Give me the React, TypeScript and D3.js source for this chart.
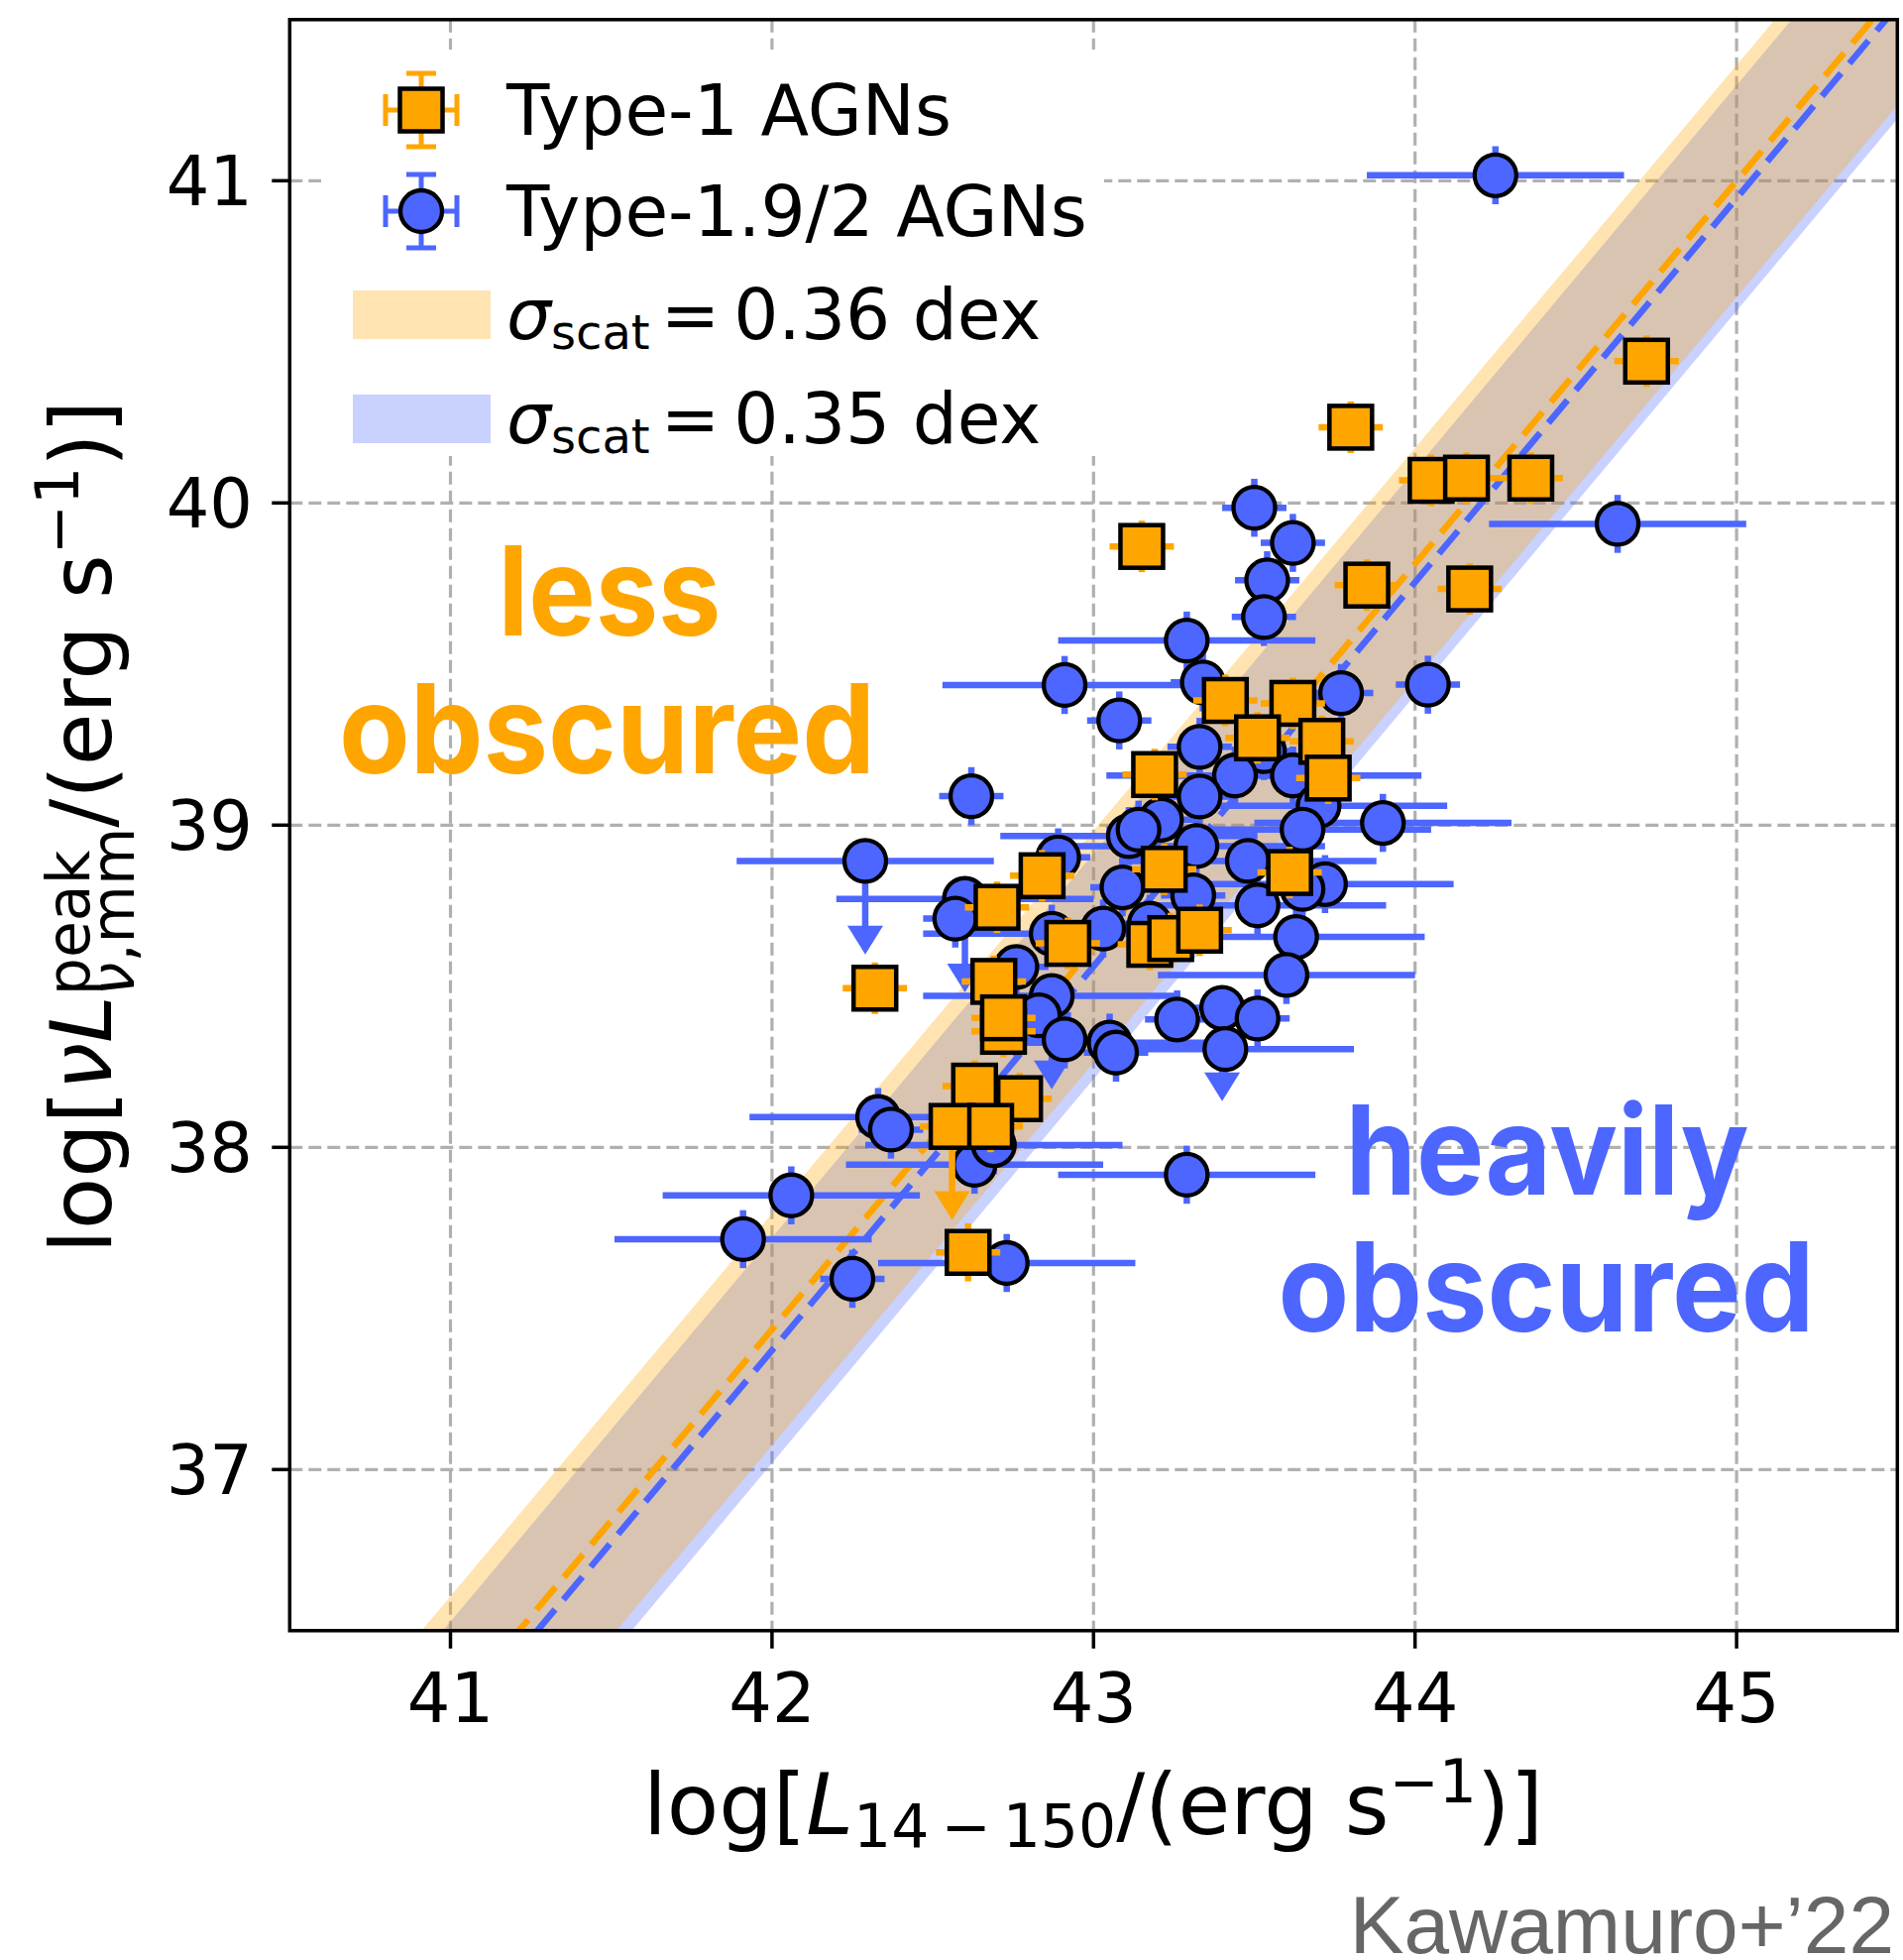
import React, { useEffect, useRef } from "react";
import * as d3 from "d3";

const xTickValues = [41, 42, 43, 44, 45];
const yTickValues = [37, 38, 39, 40, 41];

// Type-1 AGNs (orange squares)
const type1X = [44.72, 43.80, 44.05, 44.16, 44.36, 43.15, 43.85, 44.17, 43.41, 43.62, 43.51, 43.71, 43.19, 43.73, 42.84, 43.22, 43.61, 42.70, 42.92, 43.175, 43.24, 43.33, 42.32, 42.72, 42.69, 42.72, 42.63, 42.77, 42.56, 42.68, 42.61];
const type1Y = [40.44, 40.235, 40.07, 40.077, 40.077, 39.865, 39.745, 39.733, 39.387, 39.378, 39.271, 39.26, 39.157, 39.146, 38.843, 38.863, 38.853, 38.745, 38.633, 38.63, 38.648, 38.674, 38.494, 38.36, 38.515, 38.402, 38.19, 38.151, 38.065, 38.065, 37.674];
const type1XErr = [0.1, 0.1, 0.1, 0.1, 0.1, 0.1, 0.1, 0.1, 0.1, 0.1, 0.1, 0.1, 0.1, 0.1, 0.1, 0.1, 0.1, 0.1, 0.1, 0.1, 0.1, 0.1, 0.1, 0.1, 0.1, 0.1, 0.1, 0.1, 0.1, 0.1, 0.1];
const type1YErr = [0.08, 0.08, 0.08, 0.08, 0.08, 0.08, 0.08, 0.08, 0.08, 0.08, 0.08, 0.08, 0.08, 0.08, 0.08, 0.08, 0.08, 0.08, 0.08, 0.08, 0.08, 0.08, 0.08, 0.08, 0.08, 0.08, 0.08, 0.08, 0.08, 0.08, 0.09];
const type1UpperLimit = [0, 0, 0, 0, 0, 0, 0, 0, 0, 0, 0, 0, 0, 0, 0, 0, 0, 0, 0, 0, 0, 0, 0, 0, 0, 0, 0, 0, 1, 0, 0];

// Type-1.9/2 AGNs (blue circles)
const type2X = [44.25, 44.63, 43.50, 43.62, 43.54, 43.53, 43.29, 42.91, 43.34, 43.77, 44.04, 43.08, 43.33, 43.53, 43.44, 43.62, 43.33, 42.62, 43.21, 43.70, 43.65, 43.90, 43.11, 43.14, 42.29, 42.89, 43.32, 43.09, 43.31, 43.48, 43.72, 43.65, 43.51, 42.60, 42.57, 42.87, 43.03, 43.175, 43.63, 43.60, 42.87, 42.83, 42.76, 42.91, 43.05, 43.07, 43.26, 43.40, 43.51, 43.41, 42.33, 42.37, 42.06, 41.91, 42.25, 42.73, 42.63, 42.69, 43.29];
const type2Y = [41.017, 39.935, 39.985, 39.876, 39.76, 39.646, 39.573, 39.435, 39.443, 39.41, 39.436, 39.325, 39.243, 39.23, 39.154, 39.154, 39.089, 39.09, 39.017, 39.06, 38.986, 39.007, 38.966, 38.986, 38.889, 38.90, 38.935, 38.807, 38.782, 38.889, 38.817, 38.802, 38.751, 38.771, 38.71, 38.663, 38.679, 38.694, 38.653, 38.535, 38.47, 38.41, 38.56, 38.335, 38.325, 38.294, 38.397, 38.433, 38.40, 38.305, 38.094, 38.055, 37.851, 37.715, 37.592, 37.641, 37.946, 38.007, 37.915];
const type2XErr = [0.4, 0.4, 0.1, 0.1, 0.1, 0.1, 0.4, 0.38, 0.1, 0.1, 0.1, 0.1, 0.1, 0.1, 0.4, 0.4, 0.1, 0.1, 0.1, 0.4, 0.4, 0.4, 0.4, 0.1, 0.4, 0.1, 0.4, 0.1, 0.1, 0.4, 0.4, 0.1, 0.4, 0.4, 0.1, 0.4, 0.1, 0.1, 0.4, 0.4, 0.4, 0.1, 0.1, 0.1, 0.4, 0.1, 0.1, 0.1, 0.1, 0.4, 0.4, 0.1, 0.4, 0.4, 0.1, 0.4, 0.4, 0.4, 0.4];
const type2YErr = [0.09, 0.09, 0.09, 0.09, 0.09, 0.09, 0.09, 0.09, 0.09, 0.09, 0.09, 0.09, 0.09, 0.09, 0.09, 0.09, 0.09, 0.09, 0.09, 0.09, 0.09, 0.09, 0.09, 0.09, 0.09, 0.09, 0.09, 0.09, 0.09, 0.09, 0.09, 0.09, 0.09, 0.09, 0.09, 0.09, 0.09, 0.09, 0.09, 0.09, 0.09, 0.09, 0.09, 0.09, 0.09, 0.09, 0.09, 0.09, 0.09, 0.09, 0.09, 0.09, 0.09, 0.09, 0.09, 0.09, 0.09, 0.09, 0.09];
const type2UpperLimit = [0, 0, 0, 0, 0, 0, 0, 0, 0, 0, 0, 0, 0, 0, 0, 0, 0, 0, 0, 0, 0, 0, 0, 0, 1, 0, 0, 0, 0, 0, 0, 0, 0, 1, 0, 0, 0, 0, 0, 0, 1, 0, 1, 0, 0, 0, 0, 1, 0, 0, 0, 0, 0, 0, 0, 0, 0, 0, 0];

// Regression fits: [Type-1, Type-1.9/2]
const fitIntercept = [-12.461, -12.694];
const fitSlope = [1.188, 1.192];
const fitScatter = [0.36, 0.35];
const legendLabels = ["Type-1 AGNs", "Type-1.9/2 AGNs"];
const scatterLabels = ["0.36 dex", "0.35 dex"];
const limitArrowDex = 0.29;

const ORANGE = "#ffa500";
const BLUE = "#4c66ff";
const FONT = "'DejaVu Sans', sans-serif";

export default function App() {
  const ref = useRef<SVGSVGElement>(null);

  useEffect(() => {
    const svg = d3.select(ref.current);
    svg.selectAll("*").remove();

    const L = 292.3, R = 1914.3, T = 19.8, B = 1644.8;
    const x = d3.scaleLinear().domain([40.5, 45.5]).range([L, R]);
    const y = d3.scaleLinear().domain([36.5, 41.5]).range([B, T]);

    svg.append("rect").attr("width", 1920).attr("height", 1977).attr("fill", "#fff");

    svg.append("defs").append("clipPath").attr("id", "plotclip")
      .append("rect").attr("x", L).attr("y", T).attr("width", R - L).attr("height", B - T);

    const plot = svg.append("g").attr("clip-path", "url(#plotclip)");

    // grid
    const grid = plot.append("g").attr("stroke", "#b0b0b0").attr("stroke-width", 3.2).attr("stroke-dasharray", "13 6");
    xTickValues.forEach((t) => grid.append("line").attr("x1", x(t)).attr("x2", x(t)).attr("y1", T).attr("y2", B));
    yTickValues.forEach((t) => grid.append("line").attr("x1", L).attr("x2", R).attr("y1", y(t)).attr("y2", y(t)));

    // bands (blue first, orange on top)
    const xs = x.domain();
    const colors = [ORANGE, BLUE];
    [1, 0].forEach((k) => {
      const area = d3.area<number>()
        .x((d) => x(d))
        .y0((d) => y(fitIntercept[k] + fitSlope[k] * d - fitScatter[k]))
        .y1((d) => y(fitIntercept[k] + fitSlope[k] * d + fitScatter[k]));
      plot.append("path").attr("d", area(xs) as string).attr("fill", colors[k]).attr("fill-opacity", 0.3);
    });
    [0, 1].forEach((k) => {
      const line = d3.line<number>().x((d) => x(d)).y((d) => y(fitIntercept[k] + fitSlope[k] * d));
      plot.append("path").attr("d", line(xs) as string).attr("fill", "none")
        .attr("stroke", colors[k]).attr("stroke-width", 6.5).attr("stroke-dasharray", "30 13");
    });

    const drawSeries = (
      X: number[], Y: number[], XE: number[], YE: number[], UL: number[],
      color: string, shape: "circle" | "square"
    ) => {
      const bars = plot.append("g").attr("stroke", color).attr("stroke-width", 6.5);
      X.forEach((xv, i) => {
        const yv = Y[i];
        bars.append("line").attr("x1", x(xv - XE[i])).attr("x2", x(xv + XE[i])).attr("y1", y(yv)).attr("y2", y(yv));
        if (UL[i]) {
          const tip = y(yv - limitArrowDex);
          const headTop = tip - 29;
          bars.append("line").attr("x1", x(xv)).attr("x2", x(xv)).attr("y1", y(yv)).attr("y2", headTop + 2);
          plot.append("path")
            .attr("d", `M${x(xv) - 18},${headTop} L${x(xv) + 18},${headTop} L${x(xv)},${tip} Z`)
            .attr("fill", color);
        } else {
          bars.append("line").attr("x1", x(xv)).attr("x2", x(xv)).attr("y1", y(yv - YE[i])).attr("y2", y(yv + YE[i]));
        }
      });
      const marks = plot.append("g").attr("fill", color).attr("stroke", "#000");
      X.forEach((xv, i) => {
        if (shape === "circle") {
          marks.append("circle").attr("cx", x(xv)).attr("cy", y(Y[i])).attr("r", 21).attr("stroke-width", 4.3);
        } else {
          marks.append("rect").attr("x", x(xv) - 21.5).attr("y", y(Y[i]) - 21.5)
            .attr("width", 43).attr("height", 43).attr("stroke-width", 4.5);
        }
      });
    };
    drawSeries(type2X, type2Y, type2XErr, type2YErr, type2UpperLimit, BLUE, "circle");
    drawSeries(type1X, type1Y, type1XErr, type1YErr, type1UpperLimit, ORANGE, "square");

    // annotations
    const ann = svg.append("g").attr("font-family", "Inter, 'Liberation Sans', sans-serif").attr("font-weight", 700)
      .attr("font-size", 125).attr("text-anchor", "middle");
    ann.append("text").attr("x", 615).attr("y", 641).attr("fill", ORANGE).attr("textLength", 225).attr("lengthAdjust", "spacingAndGlyphs").text("less");
    ann.append("text").attr("x", 612.5).attr("y", 780).attr("fill", ORANGE).attr("textLength", 541).attr("lengthAdjust", "spacingAndGlyphs").text("obscured");
    ann.append("text").attr("x", 1561).attr("y", 1205).attr("fill", BLUE).attr("textLength", 407).attr("lengthAdjust", "spacingAndGlyphs").text("heavily");
    ann.append("text").attr("x", 1560).attr("y", 1343).attr("fill", BLUE).attr("textLength", 541).attr("lengthAdjust", "spacingAndGlyphs").text("obscured");

    // legend
    const lg = svg.append("g");
    lg.append("rect").attr("x", 324).attr("y", 50).attr("width", 790).attr("height", 410).attr("fill", "#fff");
    const legY = [111, 213];
    const LF = 71;
    [0, 1].forEach((k) => {
      const cx = 425, cy = legY[k], c = colors[k];
      const g = lg.append("g").attr("stroke", c).attr("stroke-width", 5);
      g.append("line").attr("x1", cx).attr("x2", cx).attr("y1", cy - 37).attr("y2", cy + 37);
      g.append("line").attr("x1", cx - 36).attr("x2", cx + 36).attr("y1", cy).attr("y2", cy);
      g.append("line").attr("x1", cx - 15).attr("x2", cx + 15).attr("y1", cy - 37).attr("y2", cy - 37);
      g.append("line").attr("x1", cx - 15).attr("x2", cx + 15).attr("y1", cy + 37).attr("y2", cy + 37);
      g.append("line").attr("x1", cx - 36).attr("x2", cx - 36).attr("y1", cy - 16).attr("y2", cy + 16);
      g.append("line").attr("x1", cx + 36).attr("x2", cx + 36).attr("y1", cy - 16).attr("y2", cy + 16);
      if (k === 0) {
        lg.append("rect").attr("x", cx - 21.5).attr("y", cy - 21.5).attr("width", 43).attr("height", 43)
          .attr("fill", c).attr("stroke", "#000").attr("stroke-width", 4.5);
      } else {
        lg.append("circle").attr("cx", cx).attr("cy", cy).attr("r", 21)
          .attr("fill", c).attr("stroke", "#000").attr("stroke-width", 4.3);
      }
      lg.append("text").attr("x", 511).attr("y", cy + 25).attr("font-family", FONT).attr("font-size", LF)
        .text(legendLabels[k]);
    });
    const patchY = [293, 398];
    [0, 1].forEach((k) => {
      lg.append("rect").attr("x", 356).attr("y", patchY[k]).attr("width", 139).attr("height", 49)
        .attr("fill", colors[k]).attr("fill-opacity", 0.3);
      const t = lg.append("text").attr("x", 511).attr("y", patchY[k] + 49).attr("font-family", FONT)
        .attr("font-size", LF);
      t.append("tspan").attr("font-style", "italic").text("σ");
      t.append("tspan").attr("font-size", 48).attr("dy", 10).text("scat");
      t.append("tspan").attr("dy", -10).attr("dx", 11).text("=");
      t.append("tspan").attr("dx", 14).text(scatterLabels[k]);
    });

    // spines
    svg.append("rect").attr("x", L).attr("y", T).attr("width", R - L).attr("height", B - T)
      .attr("fill", "none").attr("stroke", "#000").attr("stroke-width", 3.5);

    // ticks
    const ticks = svg.append("g").attr("stroke", "#000").attr("stroke-width", 3.5);
    xTickValues.forEach((t) => ticks.append("line").attr("x1", x(t)).attr("x2", x(t)).attr("y1", B).attr("y2", B + 18));
    yTickValues.forEach((t) => ticks.append("line").attr("x1", L - 18).attr("x2", L).attr("y1", y(t)).attr("y2", y(t)));
    const tl = svg.append("g").attr("font-family", FONT).attr("font-size", 68.6).attr("fill", "#000");
    xTickValues.forEach((t) => tl.append("text").attr("x", x(t)).attr("y", 1737).attr("text-anchor", "middle").text(String(t)));
    yTickValues.forEach((t) => tl.append("text").attr("x", 255).attr("y", y(t) + 25).attr("text-anchor", "end").text(String(t)));

    // x label
    const xl = svg.append("text").attr("x", 1103).attr("y", 1850).attr("text-anchor", "middle")
      .attr("font-family", FONT).attr("font-size", 85.8).style("white-space", "pre");
    xl.append("tspan").text("log[");
    xl.append("tspan").attr("font-style", "italic").text("L");
    xl.append("tspan").attr("font-size", 60).attr("dy", 13.4).text("14\u2009\u2212\u2009150");
    xl.append("tspan").attr("dy", -13.4).text("/(erg s");
    xl.append("tspan").attr("font-size", 60).attr("dy", -31.7).text("\u22121");
    xl.append("tspan").attr("dy", 31.7).text(")]");

    // y label
    const yg = svg.append("g").attr("transform", "translate(112,834) rotate(-90)");
    const yl = yg.append("text").attr("x", 0).attr("y", 0).attr("text-anchor", "middle")
      .attr("font-family", FONT).attr("font-size", 85.8).style("white-space", "pre");
    yl.append("tspan").text("log[");
    yl.append("tspan").attr("font-style", "italic").text("νL");
    const s1 = yl.append("tspan").attr("font-size", 60).attr("font-style", "italic").attr("dy", 23).text("ν");
    const s2 = yl.append("tspan").attr("font-size", 60).text(",mm");
    const sup = yl.append("tspan").attr("font-size", 60).attr("dy", -45).text("peak");
    const rest = yl.append("tspan").attr("dy", 22).text("/(erg s");
    yl.append("tspan").attr("font-size", 60).attr("dy", -33).text("\u22121");
    yl.append("tspan").attr("dy", 33).text(")]");
    const n1 = s1.node() as SVGTextContentElement;
    const n2 = s2.node() as SVGTextContentElement;
    const n3 = sup.node() as SVGTextContentElement;
    const subW = n1.getComputedTextLength() + n2.getComputedTextLength();
    const supW = n3.getComputedTextLength();
    sup.attr("dx", -subW);
    rest.attr("dx", Math.max(0, subW - supW));

    // credit
    svg.append("text").attr("x", 1911).attr("y", 1970).attr("text-anchor", "end")
      .attr("font-family", "'Liberation Sans', Arial, sans-serif").attr("font-size", 82).attr("fill", "#666")
      .text("Kawamuro+\u201922");
  }, []);

  return (
    <svg ref={ref} width={1920} height={1977}
      style={{ position: "absolute", left: 0, top: 0, display: "block" }} />
  );
}
